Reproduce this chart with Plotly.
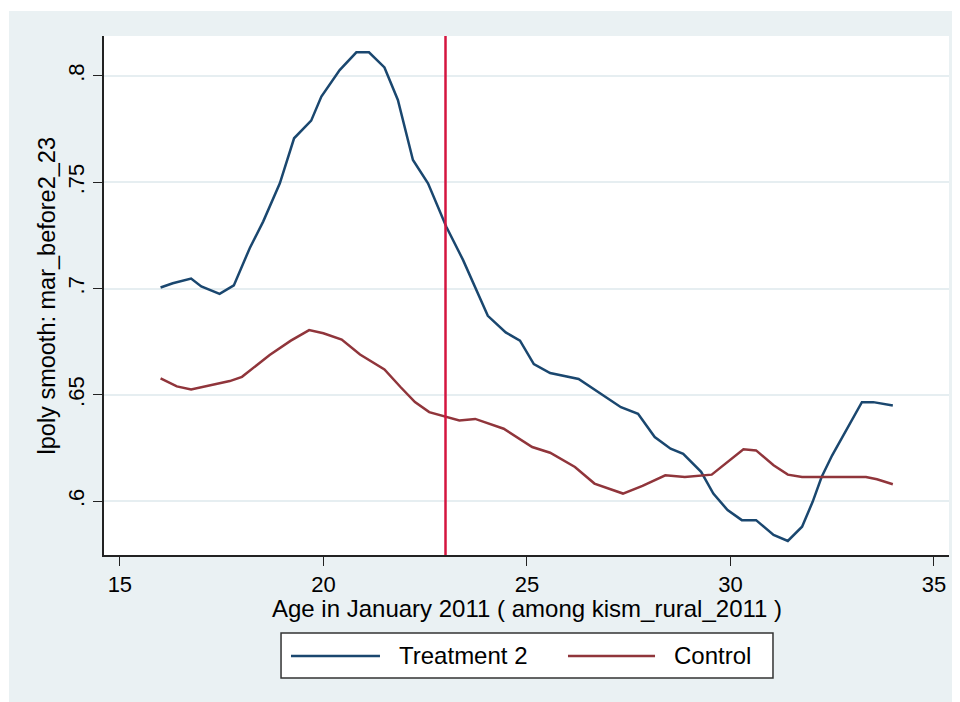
import plotly.graph_objects as go

# lpoly smooth curves
t2_age = [16.0, 16.3, 16.75, 17.0, 17.45, 17.8, 18.19, 18.52, 18.93, 19.28, 19.7, 19.95,
          20.4, 20.81, 21.12, 21.5, 21.83, 22.2, 22.57, 23.02, 23.43, 24.04, 24.48, 24.83,
          25.17, 25.57, 26.27, 26.7, 27.31, 27.73, 28.14, 28.53, 28.84, 29.28, 29.58, 29.93,
          30.28, 30.63, 31.06, 31.41, 31.76, 32.02, 32.24, 32.5, 32.85, 33.23, 33.51, 33.99]
t2_val = [0.7005, 0.7025, 0.7047, 0.7010, 0.6975, 0.7015, 0.7190, 0.7315, 0.7495, 0.7707,
          0.7790, 0.7903, 0.8028, 0.8111, 0.8111, 0.8040, 0.7887, 0.7605, 0.7495, 0.7291,
          0.7135, 0.6872, 0.6794, 0.6755, 0.6645, 0.6603, 0.6575, 0.6520, 0.6442, 0.6411,
          0.6302, 0.6247, 0.6223, 0.6138, 0.6036, 0.5958, 0.5911, 0.5911, 0.5841, 0.5813,
          0.5880, 0.5997, 0.6114, 0.6216, 0.6333, 0.6466, 0.6466, 0.6450]

ctl_age = [16.0, 16.4, 16.75, 17.2, 17.7, 18.0, 18.68, 19.2, 19.65, 20.0, 20.45, 20.9,
           21.5, 21.9, 22.25, 22.6, 23.02, 23.34, 23.73, 24.43, 25.13, 25.57, 26.18, 26.66,
           27.36, 27.84, 28.4, 28.88, 29.54, 30.02, 30.32, 30.63, 31.06, 31.41, 31.76, 33.33,
           33.6, 33.99]
ctl_val = [0.6578, 0.6540, 0.6525, 0.6545, 0.6565, 0.6585, 0.6688, 0.6755, 0.6805, 0.6790,
           0.6760, 0.6690, 0.6620, 0.6536, 0.6466, 0.6419, 0.6395, 0.6380, 0.6387, 0.6341,
           0.6255, 0.6228, 0.6161, 0.6083, 0.6036, 0.6072, 0.6122, 0.6114, 0.6125, 0.6200,
           0.6244, 0.6239, 0.6169, 0.6125, 0.6114, 0.6114, 0.6103, 0.6080]

cutoff_age = 23
x_ticks = [15, 20, 25, 30, 35]
y_ticks = [0.6, 0.65, 0.7, 0.75, 0.8]
y_ticktext = [".6", ".65", ".7", ".75", ".8"]

NAVY = "#1A476F"
MAROON = "#90353B"
RED = "#D4153F"
BG = "#EAF1F3"
FONT = "Liberation Sans, Arial, sans-serif"

fig = go.Figure()
fig.add_trace(go.Scatter(x=t2_age, y=t2_val, mode="lines", name="Treatment 2",
                         line=dict(color=NAVY, width=2.5)))
fig.add_trace(go.Scatter(x=ctl_age, y=ctl_val, mode="lines", name="Control",
                         line=dict(color=MAROON, width=2.5)))

# outer grey graph region + white plot region
fig.add_shape(type="rect", xref="paper", yref="paper", x0=-0.1124, x1=1.04, y0=-0.31, y1=1.0482,
              fillcolor=BG, line=dict(width=0), layer="below")
fig.add_shape(type="rect", xref="x domain", yref="y domain", x0=0, x1=1, y0=0, y1=1,
              fillcolor="white", line=dict(width=0), layer="below")

# cutoff line
fig.add_shape(type="line", xref="x", yref="y domain", x0=cutoff_age, x1=cutoff_age, y0=0, y1=1,
              line=dict(color=RED, width=2.5))

# legend drawn Stata-style below the plot
fig.add_shape(type="rect", xref="paper", yref="paper", x0=0.2095, x1=0.7917, y0=-0.2370, y1=-0.1503,
              fillcolor="white", line=dict(color="#333333", width=1.5))
fig.add_shape(type="line", xref="paper", yref="paper", x0=0.2213, x1=0.3266, y0=-0.1946, y1=-0.1946,
              line=dict(color=NAVY, width=2.5))
fig.add_shape(type="line", xref="paper", yref="paper", x0=0.5491, x1=0.6521, y0=-0.1946, y1=-0.1946,
              line=dict(color=MAROON, width=2.5))
fig.add_annotation(text="Treatment 2", xref="paper", yref="paper", x=0.3467, y=-0.1946,
                   xanchor="left", yanchor="middle", showarrow=False,
                   font=dict(family=FONT, size=24, color="black"))
fig.add_annotation(text="Control", xref="paper", yref="paper", x=0.6722, y=-0.1946,
                   xanchor="left", yanchor="middle", showarrow=False,
                   font=dict(family=FONT, size=24, color="black"))

# axis titles
fig.add_annotation(text="Age in January 2011 ( among kism_rural_2011 )", xref="paper", yref="paper",
                   x=0.5, y=-0.104, xanchor="center", yanchor="middle", showarrow=False,
                   font=dict(family=FONT, size=24, color="black"))
fig.add_annotation(text="lpoly smooth: mar_before2_23", xref="paper", yref="paper",
                   x=-0.0675, y=0.5, xanchor="center", yanchor="middle", textangle=-90,
                   showarrow=False, font=dict(family=FONT, size=23.5, color="black"))

fig.update_xaxes(range=[14.61, 35.37], tickvals=x_ticks, showgrid=False, zeroline=False,
                 showline=True, linecolor="#222222", linewidth=1.5,
                 ticks="outside", ticklen=9, tickwidth=1.3, tickcolor="#222222",
                 tickfont=dict(family=FONT, size=22, color="black"))
fig.update_yaxes(range=[0.5747, 0.8188], tickvals=y_ticks, ticktext=y_ticktext, tickangle=-90,
                 showgrid=True, gridcolor="#E6EEF1", gridwidth=2, zeroline=False,
                 showline=True, linecolor="#222222", linewidth=1.5,
                 ticks="outside", ticklen=9, tickwidth=1.3, tickcolor="#222222",
                 tickfont=dict(family=FONT, size=22, color="black"))

# page body adds an 8px offset; figure runs to the window edge so the grey fills it
fig.update_layout(width=960, height=702, margin=dict(l=96, r=19, t=28, b=155),
                  paper_bgcolor="white", plot_bgcolor="white", showlegend=False,
                  font=dict(family=FONT, color="black"))

fig.write_html("out.html")
